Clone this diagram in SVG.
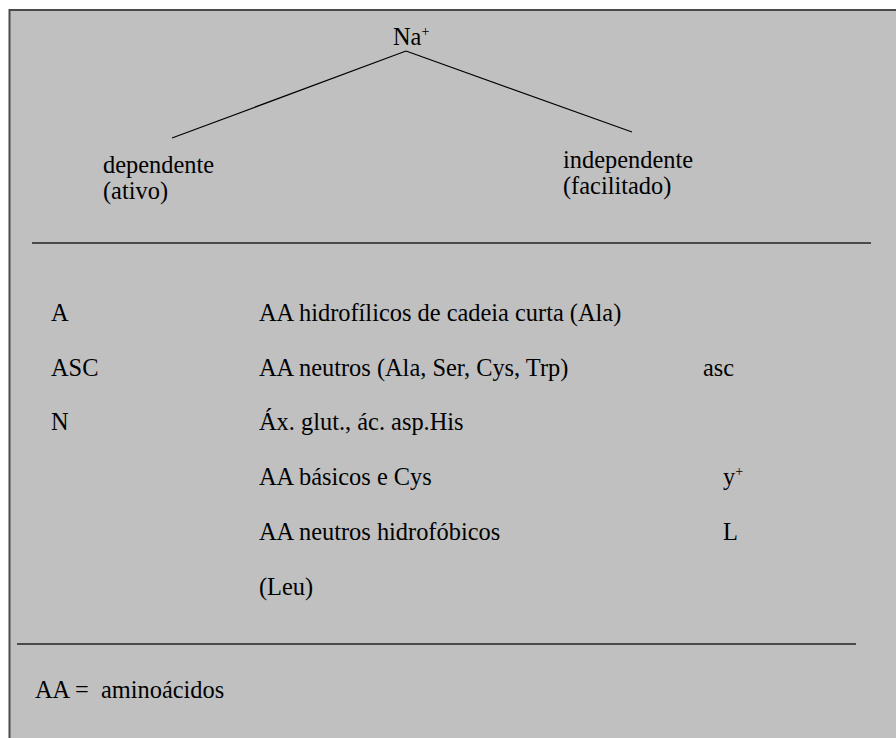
<svg xmlns="http://www.w3.org/2000/svg" width="896" height="738" viewBox="0 0 896 738" font-family="'Liberation Serif', 'Times New Roman', Tinos, 'DejaVu Serif', serif">
<style>
text{font-family:'Liberation Serif','Times New Roman',Tinos,'DejaVu Serif',serif;font-size:24.4px;fill:#000;white-space:pre}
.sup{font-size:14px}
.ln{stroke:#000;stroke-width:1.2;fill:none}
.rule{stroke:#222;stroke-width:1.5}
</style>
<rect x="0" y="0" width="896" height="738" fill="#fff"/>
<rect x="9.5" y="10" width="900" height="740" fill="#c0c0c0" stroke="#4a4a4a" stroke-width="2"/>
<g id="connectors">
<line class="ln" x1="406" y1="51" x2="172" y2="138"/>
<line class="ln" x1="406" y1="51" x2="632" y2="132"/>
</g>
<g id="na"><text x="393" y="45">Na<tspan class="sup" dy="-9">+</tspan></text></g>
<g id="dependente"><text x="103" y="173">dependente</text><text x="103" y="199">(ativo)</text></g>
<g id="independente"><text x="563" y="168">independente</text><text x="563" y="194">(facilitado)</text></g>
<line class="rule" x1="32" y1="243" x2="871" y2="243"/>
<g id="rows">
<text x="51" y="321">A</text>
<text x="259" y="321">AA hidrofílicos de cadeia curta (Ala)</text>
<text x="51" y="376">ASC</text>
<text x="259" y="376">AA neutros (Ala, Ser, Cys, Trp)</text>
<text x="703" y="376">asc</text>
<text x="51" y="430">N</text>
<text x="259" y="430">Áx. glut., ác. asp.His</text>
<text x="259" y="485">AA básicos e Cys</text>
<text x="723" y="485">y<tspan class="sup" dy="-9">+</tspan></text>
<text x="259" y="540">AA neutros hidrofóbicos</text>
<text x="723" y="540">L</text>
<text x="259" y="595">(Leu)</text>
</g>
<line class="rule" x1="17" y1="644" x2="856" y2="644"/>
<g id="legend"><text x="35" y="698" xml:space="preserve">AA =  aminoácidos</text></g>
</svg>
